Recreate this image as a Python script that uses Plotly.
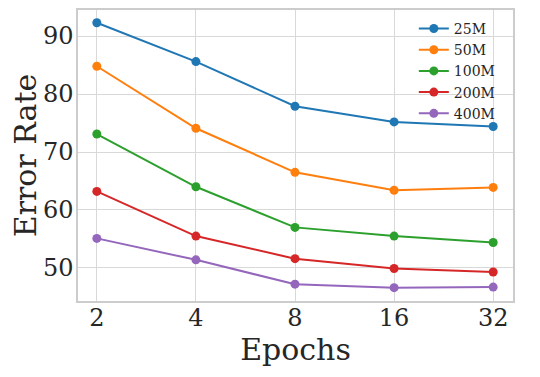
import plotly.graph_objects as go

epochs = ["2", "4", "8", "16", "32"]
series_names = ["25M", "50M", "100M", "200M", "400M"]
err_25m = [92.3, 85.6, 77.9, 75.2, 74.4]
err_50m = [84.8, 74.1, 66.5, 63.4, 63.9]
err_100m = [73.1, 64.0, 57.0, 55.5, 54.4]
err_200m = [63.2, 55.5, 51.6, 49.9, 49.3]
err_400m = [55.1, 51.4, 47.2, 46.6, 46.7]
colors = ["#1f77b4", "#ff7f0e", "#2ca02c", "#d62728", "#9467bd"]

fig = go.Figure()
for name, vals, c in zip(series_names, [err_25m, err_50m, err_100m, err_200m, err_400m], colors):
    fig.add_trace(go.Scatter(x=epochs, y=vals, name=name, mode="lines+markers",
                             line=dict(color=c, width=2), marker=dict(color=c, size=9)))

font = "DejaVu Serif"
# page body has an 8px margin, so the margins are shifted to compensate
fig.update_layout(
    width=540, height=377,
    margin=dict(l=70, r=35, t=2, b=84),
    paper_bgcolor="white", plot_bgcolor="white",
    font=dict(family=font, color="#262626"),
    showlegend=True,
    legend=dict(x=0.772, y=0.99, xanchor="left", yanchor="top",
                font=dict(family=font, size=14, color="#262626"),
                bgcolor="rgba(0,0,0,0)", tracegroupgap=0, itemwidth=30),
)
fig.update_xaxes(type="category", range=[-0.19, 4.2], automargin=False,
                 title=dict(text="Epochs", font=dict(size=30), standoff=7),
                 tickfont=dict(size=24), ticklabelstandoff=-6,
                 showgrid=True, gridcolor="#d9d9d9", gridwidth=1,
                 showline=True, linecolor="#cccccc", linewidth=1.5, mirror=True,
                 ticks="", zeroline=False)
fig.update_yaxes(range=[44.3, 94.5], tickvals=[50, 60, 70, 80, 90], automargin=False,
                 title=dict(text="Error Rate", font=dict(size=30), standoff=13),
                 tickfont=dict(size=24), ticklabelstandoff=-2,
                 showgrid=True, gridcolor="#d9d9d9", gridwidth=1,
                 showline=True, linecolor="#cccccc", linewidth=1.5, mirror=True,
                 ticks="", zeroline=False)

fig.write_html("out.html")
